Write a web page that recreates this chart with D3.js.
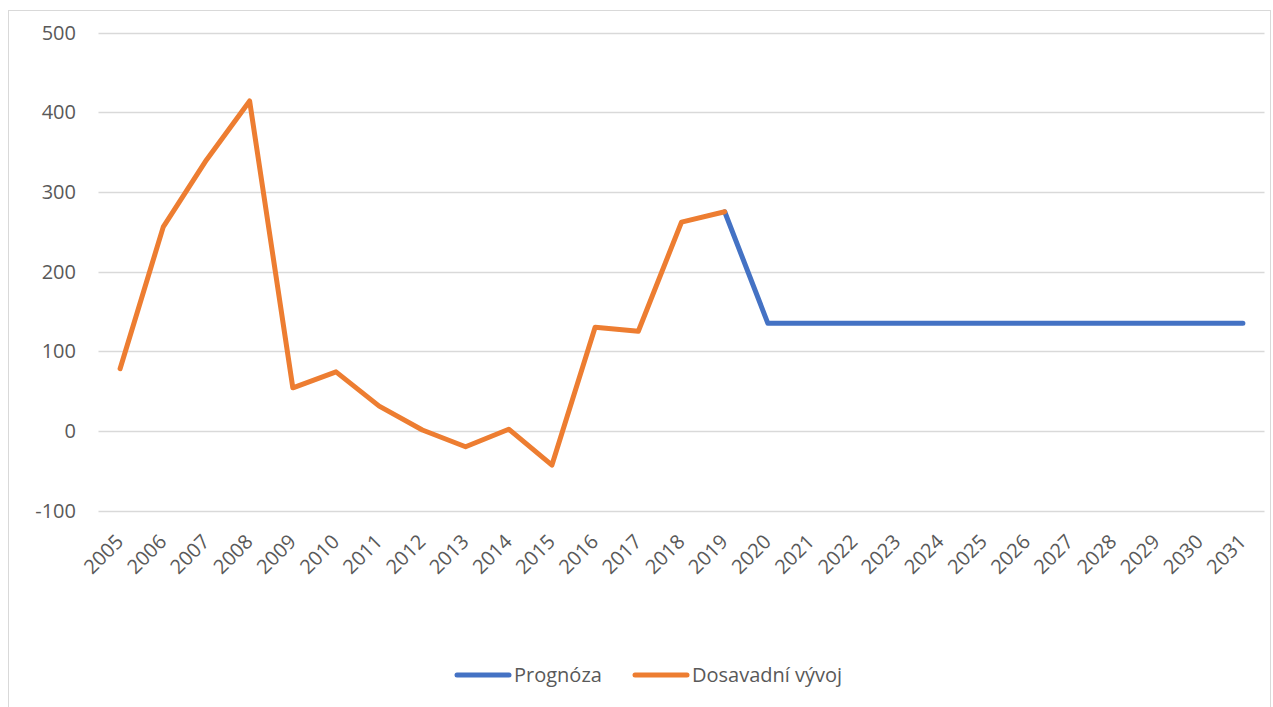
<!DOCTYPE html>
<html>
<head>
<meta charset="utf-8">
<script src="https://cdn.jsdelivr.net/npm/d3@7"></script>
<style>
  body { margin: 0; background: #fff; }
  text { font-family: "Open Sans", "Noto Sans", sans-serif; fill: #595959; }
</style>
</head>
<body>
<div id="chart"></div>
<script>
var width = 1273;
var height = 707;

// data
var years = d3.range(2005, 2032).map(String);
var historyYears = years.slice(0, 15);   // 2005-2019
var historyValues = [78, 256, 340, 414, 54, 74, 31, 1, -20, 2, -43, 130, 125, 262, 275];
var forecastYears = years.slice(14);     // 2019-2031
var forecastValues = [275, 135, 135, 135, 135, 135, 135, 135, 135, 135, 135, 135, 135];
var yTicks = [-100, 0, 100, 200, 300, 400, 500];
var seriesNames = ["Prognóza", "Dosavadní vývoj"];
var seriesColors = ["#4472C4", "#ED7D31"];

var fontSize = 20;

var svg = d3.select("#chart").append("svg")
    .attr("width", width)
    .attr("height", height);

// outer frame
svg.append("rect")
    .attr("x", 8.5).attr("y", 10.5)
    .attr("width", 1262).attr("height", 700)
    .attr("fill", "none")
    .attr("stroke", "#d9d9d9");

var x = d3.scalePoint()
    .domain(years)
    .range([98.5, 1264.5])
    .padding(0.5);

var y = d3.scaleLinear()
    .domain([-100, 500])
    .range([510.5, 32.5]);

// grid
svg.append("g").selectAll("line")
  .data(yTicks)
  .enter().append("line")
    .attr("x1", 98.5).attr("x2", 1264.5)
    .attr("y1", function(d){ return Math.round(y(d)) + 0.5; })
    .attr("y2", function(d){ return Math.round(y(d)) + 0.5; })
    .attr("stroke", "#d9d9d9")
    .attr("stroke-width", 1.3);

// y axis labels
var yAxis = d3.axisLeft(y).tickValues(yTicks).tickFormat(function(d){ return String(d); })
    .tickSize(0).tickPadding(0);
var gy = svg.append("g").attr("transform", "translate(76,0)").call(yAxis);
gy.select(".domain").remove();
gy.selectAll("text")
    .attr("font-size", fontSize)
    .attr("fill", "#595959")
    .attr("dy", "0.34em")
    .style("font-family", "'Open Sans', 'Noto Sans', sans-serif");

// x axis labels
var xAxis = d3.axisBottom(x).tickSize(0).tickPadding(0);
var gx = svg.append("g").attr("transform", "translate(0,510)").call(xAxis);
gx.select(".domain").remove();
gx.selectAll("text")
    .attr("font-size", fontSize)
    .attr("fill", "#595959")
    .style("font-family", "'Open Sans', 'Noto Sans', sans-serif")
    .attr("text-anchor", "end")
    .attr("dy", 0)
    .attr("transform", "translate(4,33) rotate(-45)");

var line = d3.line()
    .x(function(d){ return x(d[0]); })
    .y(function(d){ return y(d[1]); });

svg.append("path")
    .datum(d3.zip(forecastYears, forecastValues))
    .attr("d", line)
    .attr("fill", "none")
    .attr("stroke", seriesColors[0])
    .attr("stroke-width", 5)
    .attr("stroke-linejoin", "round")
    .attr("stroke-linecap", "round");

svg.append("path")
    .datum(d3.zip(historyYears, historyValues))
    .attr("d", line)
    .attr("fill", "none")
    .attr("stroke", seriesColors[1])
    .attr("stroke-width", 5)
    .attr("stroke-linejoin", "round")
    .attr("stroke-linecap", "round");

// legend
var legendX = [457, 635];
var legend = svg.append("g").selectAll("g")
  .data(seriesNames)
  .enter().append("g")
    .attr("transform", function(d, i){ return "translate(" + legendX[i] + ",675)"; });
legend.append("line")
    .attr("x1", 0).attr("x2", 52)
    .attr("y1", 0).attr("y2", 0)
    .attr("stroke", function(d, i){ return seriesColors[i]; })
    .attr("stroke-width", 5)
    .attr("stroke-linecap", "round");
legend.append("text")
    .attr("x", 57).attr("y", 7)
    .attr("font-size", fontSize)
    .text(function(d){ return d; });
</script>
</body>
</html>
